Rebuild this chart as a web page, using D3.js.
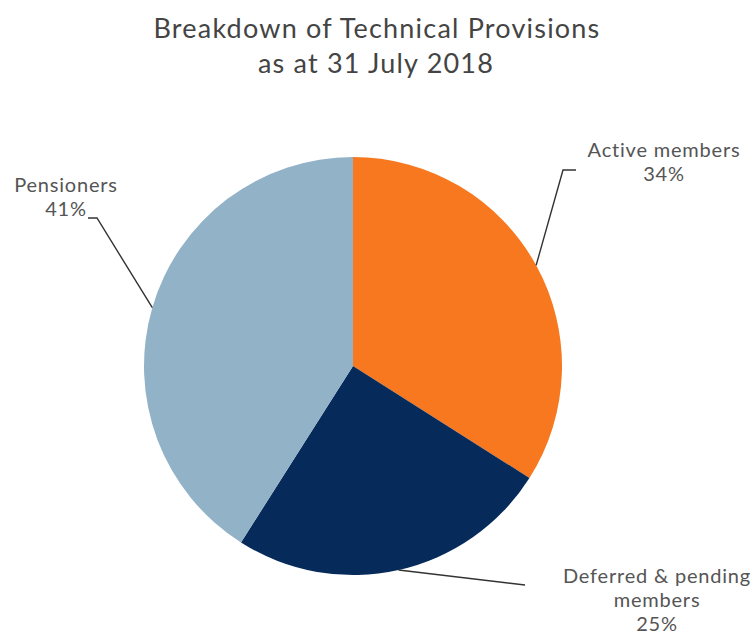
<!DOCTYPE html>
<html>
<head>
<meta charset="utf-8">
<script src="https://cdn.jsdelivr.net/npm/d3@7"></script>
<style>
  html, body { margin: 0; padding: 0; background: #fff; }
  svg { display: block; font-family: Lato, "Open Sans", sans-serif; }
</style>
</head>
<body>
<svg id="chart" width="755" height="635"></svg>
<script>
// Technical provisions split by member group (share of total, %)
const categories = ["Active members", "Deferred & pending members", "Pensioners"];
const shares = [34, 25, 41];
const colors = ["#F7781F", "#062A5A", "#92B2C8"];

// Label text lines and placement for each slice
const labelLines = [
  ["Active members", "34%"],
  ["Deferred & pending", "members", "25%"],
  ["Pensioners", "41%"]
];
const labelAnchors = [
  { x: 664, y: 157 },
  { x: 657, y: 583 },
  { x: 66, y: 192 }
];
// Leader line bend/end points after leaving the pie edge
const leaderBends = [
  [[563, 170], [576, 170]],
  [[525, 585]],
  [[97, 218], [88, 218]]
];

const svg = d3.select("#chart");
const cx = 353, cy = 366, radius = 209;

// Title
const title = svg.append("text")
  .attr("text-anchor", "middle")
  .attr("fill", "#444")
  .attr("font-size", 27)
  .attr("letter-spacing", 1.2);
title.append("tspan").attr("x", 377).attr("y", 38).text("Breakdown of Technical Provisions");
title.append("tspan").attr("x", 376).attr("y", 73).text("as at 31 July 2018");

const data = categories.map((c, i) => ({ name: c, value: shares[i], color: colors[i], i }));
const pie = d3.pie().sort(null).value(d => d.value);
const arcs = pie(data);

const arc = d3.arc().innerRadius(0).outerRadius(radius);
const edge = d3.arc().innerRadius(radius).outerRadius(radius);

const g = svg.append("g").attr("transform", `translate(${cx},${cy})`);
g.selectAll("path.slice")
  .data(arcs)
  .join("path")
  .attr("class", "slice")
  .attr("d", arc)
  .attr("fill", d => d.data.color);

// Leader lines from the middle of each slice's outer edge to its label
const line = d3.line();
svg.selectAll("path.leader")
  .data(arcs)
  .join("path")
  .attr("class", "leader")
  .attr("d", d => {
    const [ex, ey] = edge.centroid(d);
    return line([[cx + ex, cy + ey], ...leaderBends[d.data.i]]);
  })
  .attr("fill", "none")
  .attr("stroke", "#333")
  .attr("stroke-width", 1.4);

// Labels
const labels = svg.selectAll("text.label")
  .data(arcs)
  .join("text")
  .attr("class", "label")
  .attr("text-anchor", "middle")
  .attr("fill", "#555")
  .attr("font-size", 20)
  .attr("letter-spacing", 0.8);
labels.each(function(d) {
  const a = labelAnchors[d.data.i];
  d3.select(this).selectAll("tspan")
    .data(labelLines[d.data.i])
    .join("tspan")
    .attr("x", a.x)
    .attr("y", (t, k) => a.y + k * 24)
    .text(t => t);
});
</script>
</body>
</html>
